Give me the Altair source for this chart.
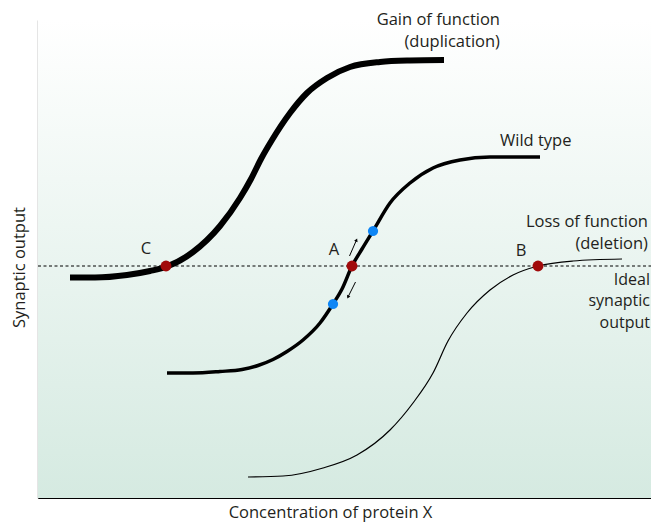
import altair as alt
import pandas as pd

# Values (arbitrary units: x = concentration, y = synaptic output)
gain_x = [32, 57, 89, 112, 129, 155, 182, 202, 213, 223, 234, 252, 269, 289, 312, 342, 372, 406]
gain_y = [222.5, 222.5, 225, 229, 233.5, 248, 274, 302, 321, 341, 360, 387, 407, 422, 433, 438, 439.5, 440]

wild_x = [129, 155, 182, 204, 220, 235, 249, 265, 282, 295, 304, 314, 324, 335, 352, 372, 395, 422, 452, 502]
wild_y = [127, 127, 128.5, 130.5, 134.5, 140.5, 148.5, 160, 177, 196, 211, 234, 251, 269, 297, 317, 332, 340, 343, 343]

loss_x = [210, 245, 285, 319, 352, 375, 395, 410, 429, 452, 475, 500, 535, 584]
loss_y = [23, 24, 32, 45, 70, 97, 127, 159, 187, 210, 225, 234, 239, 241]

ideal_level = 234

red_x = [128, 314, 500]
red_y = [234, 234, 234]
blue_x = [295, 335]
blue_y = [196, 269]

arrow_x = [311.5, 317.5]
arrow_y = [244, 218]
arrow_x2 = [318.5, 310]
arrow_y2 = [260, 203]
arrow_shape = ["triangle-up", "triangle-down"]
arrow_angle = [24, 27]

label_text = ["Gain of function", "(duplication)", "Wild type", "Loss of function", "(deletion)",
              "Ideal", "synaptic", "output", "C", "A", "B"]
label_x = [462, 462, 462, 610, 610, 612, 612, 612, 108, 296, 483]
label_y = [480, 458, 359, 278, 256, 220, 199.5, 177.5, 251, 250, 249]
label_align = ["right", "right", "left", "right", "right", "right", "right", "right", "center", "center", "center"]
label_size = [16.5, 16.5, 16.5, 16.5, 16.5, 16, 16, 16, 16.5, 16.5, 16.5]

X_MAX = 613
Y_MIN = 2
Y_MAX = 480
W = 613
H = 478
FONT = "Open Sans"
FS = 16.5
TXT = "#231f20"

xs = alt.Scale(domain=[0, X_MAX], nice=False, zero=False)
ys = alt.Scale(domain=[Y_MIN, Y_MAX], nice=False, zero=False)

curves = pd.concat([
    pd.DataFrame({"x": gain_x, "y": gain_y, "curve": "Gain"}),
    pd.DataFrame({"x": wild_x, "y": wild_y, "curve": "Wild"}),
    pd.DataFrame({"x": loss_x, "y": loss_y, "curve": "Loss"}),
])

xaxis = alt.Axis(title="Concentration of protein X", domain=True, domainColor="black", domainWidth=1.2,
                 ticks=False, labels=False, grid=False, titleFont=FONT, titleFontSize=FS,
                 titleFontWeight="normal", titleColor=TXT, titleX=292, titleY=14, titleBaseline="middle")
yaxis = alt.Axis(title="Synaptic output", domain=True, domainColor="black", domainWidth=1.2,
                 ticks=False, labels=False, grid=False, titleFont=FONT, titleFontSize=FS,
                 titleFontWeight="normal", titleColor=TXT, titleX=-19, titleY=247, titleAngle=270,
                 titleBaseline="middle", titleAlign="center")

gradient = alt.LinearGradient(
    gradient="linear", x1=0, y1=0, x2=0, y2=1,
    stops=[alt.GradientStop(offset=0, color="#ffffff"), alt.GradientStop(offset=1, color="#d5eae1")],
)

background = alt.Chart(pd.DataFrame({"k": [0]})).mark_rect(color=gradient).encode(
    x=alt.value(0), x2=alt.value(W), y=alt.value(0), y2=alt.value(H))

def line_for(name, width):
    return alt.Chart(curves).transform_filter(alt.datum.curve == name).mark_line(
        interpolate="monotone", color="black", strokeWidth=width, strokeCap="butt"
    ).encode(x=alt.X("x:Q", scale=xs, axis=xaxis), y=alt.Y("y:Q", scale=ys, axis=yaxis), order="x:Q")

dash = alt.Chart(pd.DataFrame({"y": [ideal_level]})).mark_rule(
    color="black", strokeWidth=1, strokeDash=[3, 2.5]
).encode(y=alt.Y("y:Q", scale=ys), x=alt.value(0), x2=alt.value(W))

red = alt.Chart(pd.DataFrame({"x": red_x, "y": red_y})).mark_point(
    filled=True, color="#a10a0a", size=120, opacity=1, shape="circle"
).encode(x=alt.X("x:Q", scale=xs), y=alt.Y("y:Q", scale=ys))

blue = alt.Chart(pd.DataFrame({"x": blue_x, "y": blue_y})).mark_point(
    filled=True, color="#0f86f5", size=105, opacity=1, shape="circle"
).encode(x=alt.X("x:Q", scale=xs), y=alt.Y("y:Q", scale=ys))

arrows_df = pd.DataFrame({"x": arrow_x, "y": arrow_y, "x2": arrow_x2, "y2": arrow_y2,
                          "shape": arrow_shape, "angle": arrow_angle})
arrow_lines = alt.Chart(arrows_df).mark_rule(color="black", strokeWidth=1).encode(
    x=alt.X("x:Q", scale=xs), y=alt.Y("y:Q", scale=ys), x2="x2:Q", y2="y2:Q")
arrow_heads = alt.Chart(arrows_df).mark_point(filled=True, color="black", size=14, opacity=1).encode(
    x=alt.X("x2:Q", scale=xs), y=alt.Y("y2:Q", scale=ys),
    shape=alt.Shape("shape:N", scale=None), angle=alt.Angle("angle:Q", scale=None))

labels_df = pd.DataFrame({"t": label_text, "x": label_x, "y": label_y, "a": label_align, "s": label_size})
label_layers = []
for al in ["left", "right", "center"]:
    label_layers.append(
        alt.Chart(labels_df).transform_filter(alt.datum.a == al).mark_text(
            align=al, baseline="middle", font=FONT, color=TXT
        ).encode(x=alt.X("x:Q", scale=xs), y=alt.Y("y:Q", scale=ys), text="t:N",
                 size=alt.Size("s:Q", scale=None))
    )

chart = alt.layer(
    background, line_for("Loss", 1.2), line_for("Wild", 3.5), line_for("Gain", 6),
    dash, red, blue, arrow_lines, arrow_heads, *label_layers
).properties(
    width=W, height=H,
    autosize=alt.AutoSizeParams(type="none"),
    padding={"left": 30, "top": 12, "right": 0, "bottom": 24},
    background="white",
).configure_view(stroke=None)

chart.save("out.html", embed_options={"renderer": "svg", "actions": False})
